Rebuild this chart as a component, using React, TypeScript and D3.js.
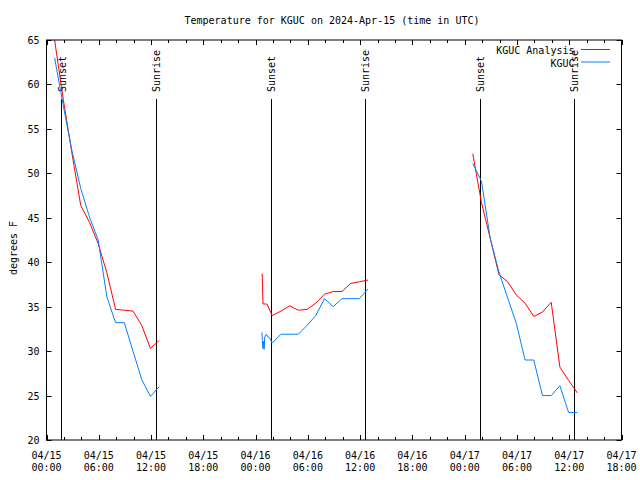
import React from "react";
import * as d3 from "d3";

// hours since 04/15 00:00 UTC; null marks a gap
const analysisHours = [
  0.93, 1.93, 2.93, 3.93, 4.93, 5.93, 6.93, 7.93, 8.93, 9.93, 10.93, 11.93, 12.93, null,
  24.76, 24.8, 24.85, 25.3, 25.91, 26.91, 27.91, 28.91, 29.91, 30.91, 31.91, 32.91, 33.91, 34.91, 35.91, 36.91, null,
  48.93, 49.93, 50.93, 51.93, 52.93, 53.93, 54.93, 55.93, 56.93, 57.93, 58.93, 59.93, 60.93,
];
const analysisTemps = [
  65.0, 58.3, 52.2, 46.4, 44.5, 42.1, 38.8, 34.7, 34.6, 34.5, 32.9, 30.3, 31.2, null,
  38.7, 37.1, 35.3, 35.3, 34.0, 34.5, 35.1, 34.6, 34.7, 35.4, 36.4, 36.7, 36.7, 37.6, 37.8, 38.0, null,
  52.2, 46.7, 42.7, 38.6, 37.8, 36.3, 35.4, 33.9, 34.4, 35.5, 28.2, 26.7, 25.3,
];
const obsHours = [
  0.93, 1.93, 2.93, 3.93, 4.93, 5.93, 6.93, 7.93, 8.93, 9.93, 10.93, 11.93, 12.93, null,
  24.72, 24.78, 24.84, 24.9, 24.98, 25.05, 25.23, 25.42, 25.6, 25.91, 26.91, 27.91, 28.91, 29.91, 30.91, 31.91, 32.91, 33.91, 34.91, 35.91, 36.91, null,
  48.93, 49.93, 50.93, 51.93, 52.93, 53.93, 54.93, 55.93, 56.93, 57.93, 58.93, 59.93, 60.93,
];
const obsTemps = [
  63.0, 57.6, 52.5, 48.3, 45.1, 42.5, 36.1, 33.2, 33.2, 30.0, 26.8, 24.9, 26.0, null,
  32.1, 31.2, 30.3, 31.1, 30.2, 31.6, 31.9, 31.6, 31.5, 30.9, 31.9, 31.9, 31.9, 32.9, 34.0, 35.9, 35.0, 35.9, 35.9, 35.9, 37.0, null,
  51.1, 49.1, 42.7, 38.9, 36.0, 33.1, 29.0, 29.0, 25.0, 25.0, 26.1, 23.1, 23.1,
];
const sunsetHours = [1.69, 25.75, 49.74];
const sunriseHours = [12.55, 36.54, 60.53];
const yTicks = [20, 25, 30, 35, 40, 45, 50, 55, 60, 65];
const xMajorHours = [0, 6, 12, 18, 24, 30, 36, 42, 48, 54, 60, 66];
const dateLabels = ["04/15", "04/15", "04/15", "04/15", "04/16", "04/16", "04/16", "04/16", "04/17", "04/17", "04/17", "04/17"];
const timeLabels = ["00:00", "06:00", "12:00", "18:00", "00:00", "06:00", "12:00", "18:00", "00:00", "06:00", "12:00", "18:00"];
const seriesNames = ["KGUC Analysis", "KGUC"];
const seriesColors = ["#ff0000", "#0080ff"];

const FONT = "'DejaVu Sans Mono', 'Liberation Mono', monospace";

export default function App() {
  const L = 46.5, R = 621.5, T = 40, B = 440;
  const x = d3.scaleLinear().domain([0, 66]).range([L, R]);
  const y = d3.scaleLinear().domain([20, 65]).range([B, T]);

  const mk = (hs: (number | null)[], ts: (number | null)[]) => {
    const pts = hs.map((h, i) => [h, ts[i]] as [number | null, number | null]);
    return d3
      .line<[number | null, number | null]>()
      .defined((d) => d[0] !== null && d[1] !== null)
      .x((d) => x(d[0] as number))
      .y((d) => y(d[1] as number))(pts) as string;
  };
  const redPath = mk(analysisHours, analysisTemps);
  const bluePath = mk(obsHours, obsTemps);

  const minorHours = d3.range(0, 67, 2).filter((h) => h % 6 !== 0);
  const fs = 10;

  return (
    <svg width={640} height={480} style={{ position: "absolute", left: 0, top: 0, background: "#fff" }} fontFamily={FONT} fontSize={fs}>
      <rect x={0} y={0} width={640} height={480} fill="#fff" />
      <text x={332} y={24} textAnchor="middle">Temperature for KGUC on 2024-Apr-15 (time in UTC)</text>
      <defs>
        <clipPath id="plotclip">
          <rect x={L} y={T} width={R - L} height={B - T} />
        </clipPath>
      </defs>
      {/* y ticks */}
      {yTicks.map((v) => (
        <g key={"y" + v}>
          <line x1={L} x2={L + 5} y1={Math.round(y(v)) + 0.5} y2={Math.round(y(v)) + 0.5} stroke="#000" />
          <line x1={R} x2={R - 5} y1={Math.round(y(v)) + 0.5} y2={Math.round(y(v)) + 0.5} stroke="#000" />
          <text x={39.5} y={y(v) + 4} textAnchor="end">{v}</text>
        </g>
      ))}
      {/* x ticks */}
      {xMajorHours.map((h, i) => (
        <g key={"x" + h}>
          <line x1={Math.round(x(h)) + 0.5} x2={Math.round(x(h)) + 0.5} y1={B} y2={B - 5} stroke="#000" />
          <line x1={Math.round(x(h)) + 0.5} x2={Math.round(x(h)) + 0.5} y1={T} y2={T + 5} stroke="#000" />
          <text x={x(h)} y={458.5} textAnchor="middle">{dateLabels[i]}</text>
          <text x={x(h)} y={471} textAnchor="middle">{timeLabels[i]}</text>
        </g>
      ))}
      {minorHours.map((h) => (
        <g key={"m" + h}>
          <line x1={Math.round(x(h)) + 0.5} x2={Math.round(x(h)) + 0.5} y1={B} y2={B - 3} stroke="#000" />
          <line x1={Math.round(x(h)) + 0.5} x2={Math.round(x(h)) + 0.5} y1={T} y2={T + 3} stroke="#000" />
        </g>
      ))}
      <text transform="translate(16.5,248) rotate(-90)" textAnchor="middle">degrees F</text>
      {/* sun lines */}
      {sunsetHours.map((h) => (
        <g key={"ss" + h}>
          <line x1={Math.round(x(h)) + 0.5} x2={Math.round(x(h)) + 0.5} y1={99} y2={B} stroke="#000" />
          <text transform={`translate(${x(h) + 4.5},92) rotate(-90)`} textAnchor="start">Sunset</text>
        </g>
      ))}
      {sunriseHours.map((h) => (
        <g key={"sr" + h}>
          <line x1={Math.round(x(h)) + 0.5} x2={Math.round(x(h)) + 0.5} y1={99} y2={B} stroke="#000" />
          <text transform={`translate(${x(h) + 4.5},92) rotate(-90)`} textAnchor="start">Sunrise</text>
        </g>
      ))}
      <g clipPath="url(#plotclip)">
        <path d={redPath} fill="none" stroke={seriesColors[0]} strokeWidth={1} />
        <path d={bluePath} fill="none" stroke={seriesColors[1]} strokeWidth={1} />
      </g>
      {/* legend */}
      {seriesNames.map((n, i) => (
        <g key={n}>
          <text x={574.5} y={54 + i * 12.5} textAnchor="end">{n}</text>
          <line x1={581} x2={610} y1={49.5 + i * 12.5} y2={49.5 + i * 12.5} stroke={seriesColors[i]} />
        </g>
      ))}
      <rect x={L} y={T} width={R - L} height={B - T} fill="none" stroke="#000" />
    </svg>
  );
}
